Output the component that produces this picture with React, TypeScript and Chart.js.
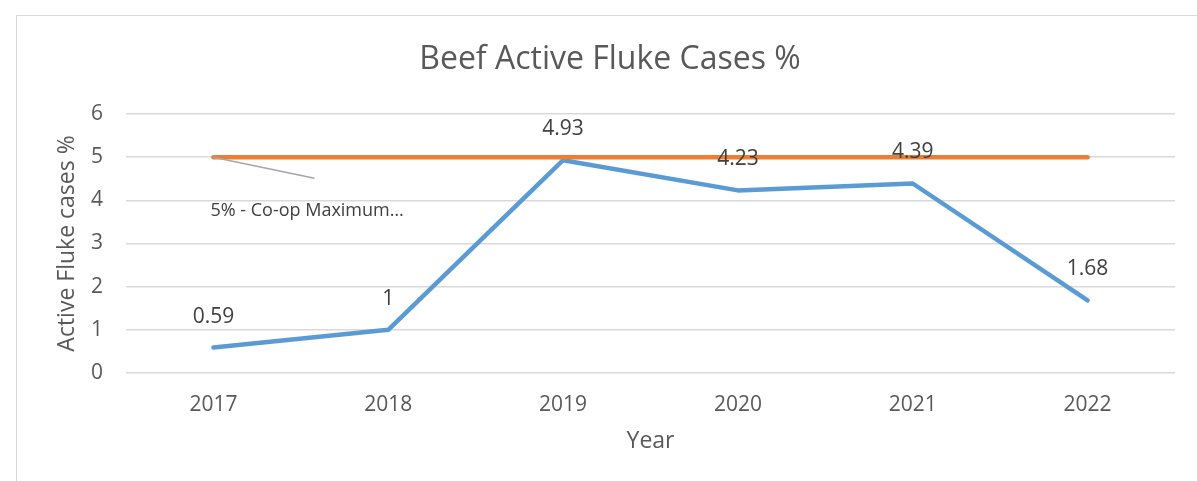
import React, { useEffect, useRef } from "react";
import { Chart, registerables } from "chart.js";

Chart.register(...registerables);

const years = ["2017", "2018", "2019", "2020", "2021", "2022"];
const activeFluke = [0.59, 1, 4.93, 4.23, 4.39, 1.68];
const coopMaximum = [5, 5, 5, 5, 5, 5];
const chartTitle = "Beef Active Fluke Cases %";
const yTitle = "Active Fluke cases %";
const xTitle = "Year";
const maxLabel = "5% - Co-op Maximum…";

const FONT = "'Open Sans', 'Noto Sans', sans-serif";
const TEXT = "#595959";

const overlayPlugin = {
  id: "overlay",
  afterDatasetsDraw(chart: any) {
    const ctx = chart.ctx;
    ctx.save();
    // title
    ctx.fillStyle = TEXT;
    ctx.font = `32px ${FONT}`;
    ctx.textAlign = "center";
    ctx.textBaseline = "middle";
    ctx.fillText(chartTitle, 610, 60);

    // data labels for blue series
    const meta = chart.getDatasetMeta(1);
    ctx.font = `21px ${FONT}`;
    ctx.fillStyle = "#404040";
    meta.data.forEach((pt: any, i: number) => {
      ctx.fillText(String(activeFluke[i]), pt.x, pt.y - 31);
    });

    // callout for max line
    const m = chart.getDatasetMeta(0).data[0];
    ctx.strokeStyle = "#a6a6a6";
    ctx.lineWidth = 1.5;
    ctx.beginPath();
    ctx.moveTo(m.x, m.y);
    ctx.lineTo(m.x + 101, m.y + 21);
    ctx.stroke();
    ctx.fillStyle = "#404040";
    ctx.textAlign = "left";
    ctx.font = `18px ${FONT}`;
    ctx.fillText(maxLabel, m.x - 3, m.y + 54);
    ctx.restore();
  },
};

export default function App() {
  const ref = useRef<HTMLCanvasElement>(null);
  useEffect(() => {
    document.body.style.margin = "0";
    const chart = new Chart(ref.current!, {
      type: "line",
      data: {
        labels: years,
        datasets: [
          {
            label: "Co-op Maximum",
            data: coopMaximum,
            borderColor: "#ED7D31",
            borderWidth: 4.5,
            pointRadius: 0,
            borderCapStyle: "round",
            borderJoinStyle: "round",
          },
          {
            label: "Active Fluke cases %",
            data: activeFluke,
            borderColor: "#5B9BD5",
            borderWidth: 4.5,
            pointRadius: 0,
            borderCapStyle: "round",
            borderJoinStyle: "round",
          },
        ],
      },
      options: {
        animation: false,
        responsive: false,
        layout: { padding: { left: 0, top: 114, right: 22, bottom: 0 } },
        plugins: {
          legend: { display: false },
          title: { display: false },
          tooltip: { enabled: false },
        },
        scales: {
          x: {
            offset: true,
            grid: { display: false, drawTicks: false },
            border: { display: false },
            ticks: { color: TEXT, font: { family: FONT, size: 21 }, padding: 19 },
            title: {
              display: true,
              text: xTitle,
              color: TEXT,
              font: { family: FONT, size: 23 },
              padding: { top: 0, bottom: 26 },
            },
            afterFit: (s: any) => {
              s.height = 108;
            },
          },
          y: {
            min: 0,
            max: 6,
            ticks: { stepSize: 1, color: TEXT, font: { family: FONT, size: 21 }, padding: 23 },
            grid: { color: "#d9d9d9", lineWidth: 1.5, drawTicks: false },
            border: { display: false },
            title: {
              display: true,
              text: yTitle,
              color: TEXT,
              font: { family: FONT, size: 23 },
              padding: { top: 54, bottom: 0 },
            },
            afterFit: (s: any) => {
              s.width = 126;
            },
          },
        },
      },
      plugins: [overlayPlugin],
    });
    return () => chart.destroy();
  }, []);
  return (
    <div style={{ position: "relative", width: 1197, height: 481, overflow: "hidden", background: "#fff" }}>
      <div
        style={{
          position: "absolute",
          left: 16,
          top: 15,
          width: 1300,
          height: 600,
          border: "1.5px solid #d9d9d9",
        }}
      />
      <canvas ref={ref} width={1197} height={481} style={{ position: "absolute", left: 0, top: 0 }} />
    </div>
  );
}
